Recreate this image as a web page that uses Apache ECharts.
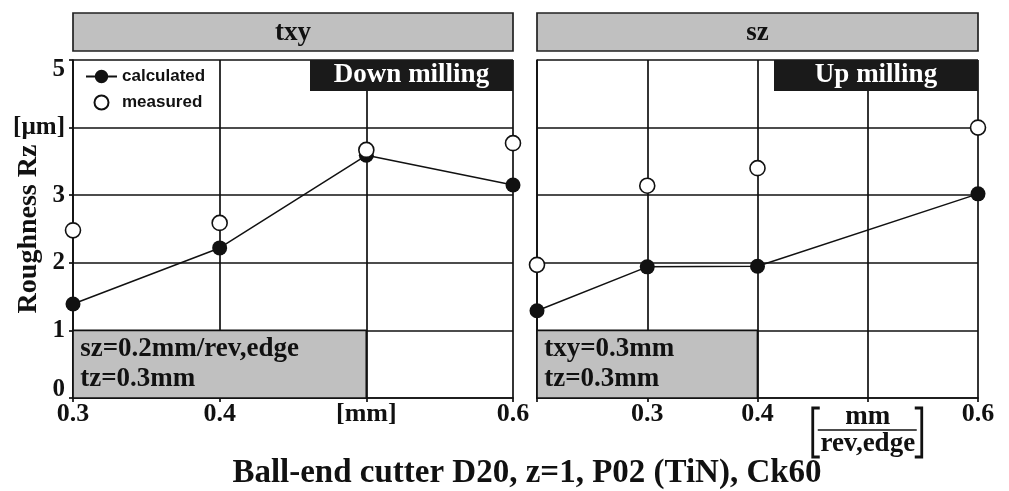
<!DOCTYPE html>
<html>
<head>
<meta charset="utf-8">
<script src="https://cdn.jsdelivr.net/npm/echarts@6/dist/echarts.min.js"></script>
<style>
  html, body { margin: 0; padding: 0; background: #fff; }
  #chart { width: 1009px; height: 491px; }
</style>
</head>
<body>
<div id="chart"></div>
<script>
// Feed per tooth txy [mm] (left) and feed sz [mm/rev,edge] (right)
const leftFeed = [0.3, 0.4, 0.5, 0.6];
const leftCalculated = [1.39, 2.22, 3.59, 3.15];
const leftMeasured = [2.48, 2.59, 3.67, 3.77];

const rightFeed = [0.2, 0.3, 0.4, 0.6];
const rightCalculated = [1.29, 1.94, 1.95, 3.02];
const rightMeasured = [1.97, 3.14, 3.40, 4.00];

const leftTickLabels = ['0.3', '0.4', '[mm]', '0.6'];
const rightTickLabels = ['', '0.3', '0.4', '', '0.6'];
const yTickLabels = ['0', '1', '2', '3', '[µm]', '5'];

const panelTitles = ['txy', 'sz'];
const modeLabels = ['Down milling', 'Up milling'];
const conditionLabels = ['sz=0.2mm/rev,edge\ntz=0.3mm', 'txy=0.3mm\ntz=0.3mm'];
const footer = 'Ball-end cutter D20, z=1, P02 (TiN), Ck60';

const SERIF = '"Liberation Serif", "Times New Roman", serif';
const SANS = '"Liberation Sans", Arial, sans-serif';
const INK = '#111';
const GRAY = '#c0c0c0';
const RULE = 1.7;

// Legend glyph for the calculated curve: short line with a filled dot
const CALC_ICON = 'path://M0,6H9V8H0Z M21,6H30V8H21Z M21.5,7A6.5,6.5 0 1 1 8.5,7A6.5,6.5 0 1 1 21.5,7Z';

// Plot panel geometry (pixels)
const panels = [
  { left: 73, width: 440 },
  { left: 537, width: 441 }
];
const TOP = 60, HEIGHT = 338;

const zip = (xs, ys) => xs.map((x, i) => [x, ys[i]]);

const tickText = (labels, min) => v => {
  const i = Math.round((v - min) / 0.1);
  return labels[i] !== undefined ? labels[i] : '';
};

// End labels of the value axis sit inside the plot height
const yLabel = v => {
  const i = Math.round(v);
  if (i === 0) return '{lift|' + yTickLabels[i] + '}';
  if (i === 5) return '{drop|' + yTickLabels[i] + '}';
  return yTickLabels[i];
};

const yLabelFont = { fontFamily: SERIF, fontWeight: 'bold', fontSize: 25, color: INK };

function xAxis(gridIndex, min, labels) {
  return {
    type: 'value', gridIndex, min, max: 0.6, interval: 0.1,
    axisLine: { show: true, lineStyle: { color: INK, width: RULE } },
    axisTick: { show: true, length: 4, lineStyle: { color: INK, width: RULE } },
    splitLine: { show: true, lineStyle: { color: INK, width: RULE } },
    axisLabel: {
      margin: 3, showMinLabel: true, showMaxLabel: true, hideOverlap: false,
      formatter: tickText(labels, min),
      fontFamily: SERIF, fontWeight: 'bold', fontSize: 26, color: INK
    }
  };
}

function yAxis(gridIndex, withLabels) {
  return {
    type: 'value', gridIndex, min: 0, max: 5, interval: 1,
    name: withLabels ? 'Roughness Rz' : '',
    nameLocation: 'middle', nameGap: 30, nameRotate: 90, nameMoveOverlap: false,
    nameTextStyle: { fontFamily: SERIF, fontWeight: 'bold', fontSize: 28, color: INK },
    axisLine: { show: true, lineStyle: { color: INK, width: RULE } },
    axisTick: { show: withLabels, length: 4, lineStyle: { color: INK, width: RULE } },
    splitLine: { show: true, lineStyle: { color: INK, width: RULE } },
    axisLabel: Object.assign({
      show: withLabels, margin: 8, showMinLabel: true, showMaxLabel: true, hideOverlap: false,
      formatter: yLabel,
      rich: {
        lift: Object.assign({ padding: [0, 0, 16, 0] }, yLabelFont),
        drop: Object.assign({ padding: [20, 0, 0, 0] }, yLabelFont)
      }
    }, yLabelFont)
  };
}

function conditionBox(xFrom, xTo, text) {
  return {
    silent: true,
    itemStyle: { color: GRAY, borderColor: INK, borderWidth: RULE },
    label: {
      show: true, position: 'insideLeft', distance: 8,
      formatter: text, fontFamily: SERIF, fontWeight: 'bold',
      fontSize: 27, lineHeight: 30, color: INK, align: 'left'
    },
    data: [[{ xAxis: xFrom, yAxis: 0 }, { xAxis: xTo, yAxis: 1 }]]
  };
}

function calcSeries(i, xs, ys, box) {
  return {
    name: 'calculated', type: 'line', xAxisIndex: i, yAxisIndex: i,
    data: zip(xs, ys), symbol: 'circle', symbolSize: 15, clip: false, z: 3,
    itemStyle: { color: INK, opacity: 1 },
    lineStyle: { color: INK, width: 1.5 },
    markArea: box
  };
}

function measSeries(i, xs, ys) {
  return {
    name: 'measured', type: 'scatter', xAxisIndex: i, yAxisIndex: i,
    data: zip(xs, ys), symbol: 'circle', symbolSize: 15, clip: false, z: 4,
    itemStyle: { color: '#fff', borderColor: INK, borderWidth: 1.6, opacity: 1 }
  };
}

// Header bars, mode tags, fraction unit and footer
const graphics = [];
panels.forEach((p, i) => {
  graphics.push({
    type: 'rect', z: 10,
    shape: { x: p.left, y: 13, width: p.width, height: 38 },
    style: { fill: GRAY, stroke: '#222', lineWidth: RULE }
  });
  graphics.push({
    type: 'text', z: 11, x: p.left + p.width / 2, y: 33,
    style: { text: panelTitles[i], font: 'bold 27px ' + SERIF, fill: INK,
      align: 'center', verticalAlign: 'middle' }
  });
});
const tagWidths = [203, 204];
panels.forEach((p, i) => {
  const x0 = p.left + p.width - tagWidths[i];
  graphics.push({
    type: 'rect', z: 10,
    shape: { x: x0, y: TOP, width: tagWidths[i], height: 31 },
    style: { fill: '#1a1a1a' }
  });
  graphics.push({
    type: 'text', z: 11, x: x0 + tagWidths[i] / 2, y: TOP + 15,
    style: { text: modeLabels[i], font: 'bold 27px ' + SERIF, fill: '#fff',
      align: 'center', verticalAlign: 'middle' }
  });
});

// Unit of sz drawn as a bracketed fraction under the 0.5 position of the right axis
const fx = panels[1].left + panels[1].width * 3 / 4;
graphics.push(
  { type: 'text', x: fx, y: 417, style: { text: 'mm', font: 'bold 27px ' + SERIF,
      fill: INK, align: 'center', verticalAlign: 'middle' } },
  { type: 'line', shape: { x1: fx - 50, y1: 430, x2: fx + 49, y2: 430 },
    style: { stroke: INK, lineWidth: 1.6 } },
  { type: 'text', x: fx, y: 444, style: { text: 'rev,edge', font: 'bold 27px ' + SERIF,
      fill: INK, align: 'center', verticalAlign: 'middle' } },
  { type: 'polyline', shape: { points: [[fx - 48, 408], [fx - 55, 408], [fx - 55, 457], [fx - 48, 457]] },
    style: { stroke: INK, lineWidth: 2.8, fill: null } },
  { type: 'polyline', shape: { points: [[fx + 47, 408], [fx + 54, 408], [fx + 54, 457], [fx + 47, 457]] },
    style: { stroke: INK, lineWidth: 2.8, fill: null } },
  { type: 'text', x: 527, y: 473, style: { text: footer, font: 'bold 33px ' + SERIF,
      fill: INK, align: 'center', verticalAlign: 'middle' } }
);

const chart = echarts.init(document.getElementById('chart'), null, { renderer: 'canvas' });
chart.setOption({
  animation: false,
  backgroundColor: '#fff',
  grid: panels.map(p => ({
    left: p.left, width: p.width, top: TOP, height: HEIGHT,
    containLabel: false, outerBoundsMode: 'none'
  })),
  xAxis: [xAxis(0, 0.3, leftTickLabels), xAxis(1, 0.2, rightTickLabels)],
  yAxis: [yAxis(0, true), yAxis(1, false)],
  legend: {
    data: [{ name: 'calculated', icon: CALC_ICON }, { name: 'measured' }],
    orient: 'vertical', left: 86, top: 68, itemGap: 9, padding: 0,
    itemWidth: 31, itemHeight: 14, selectedMode: false,
    textStyle: { fontFamily: SANS, fontWeight: 'bold', fontSize: 17, color: INK }
  },
  graphic: graphics,
  series: [
    calcSeries(0, leftFeed, leftCalculated, conditionBox(0.3, 0.5, conditionLabels[0])),
    measSeries(0, leftFeed, leftMeasured),
    calcSeries(1, rightFeed, rightCalculated, conditionBox(0.2, 0.4, conditionLabels[1])),
    measSeries(1, rightFeed, rightMeasured)
  ]
});
</script>
</body>
</html>
